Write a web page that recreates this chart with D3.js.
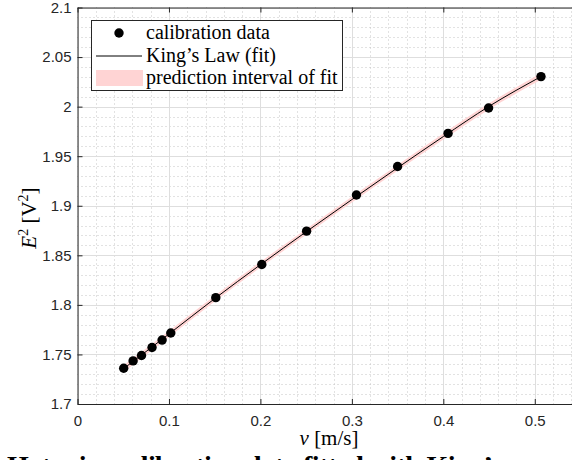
<!DOCTYPE html>
<html>
<head>
<meta charset="utf-8">
<script src="https://cdn.jsdelivr.net/npm/d3@7"></script>
<style>
  body { margin: 0; background: #fff; }
  svg { display: block; }
</style>
</head>
<body>
<svg id="chart" width="572" height="460"></svg>
<script>
// calibration points
const vData  = [0.0505, 0.0608, 0.0700, 0.0815, 0.0925, 0.1020, 0.1512, 0.2015, 0.2505, 0.3050, 0.3500, 0.4052, 0.4495, 0.5068];
const e2Data = [1.7361, 1.7435, 1.7489, 1.7570, 1.7645, 1.7716, 1.8073, 1.8407, 1.8744, 1.9108, 1.9396, 1.9730, 1.9986, 2.0303];

// fitted curve + prediction interval
const fitV     = [0.0505, 0.10, 0.15, 0.20, 0.25, 0.30, 0.35, 0.40, 0.45, 0.5068];
const fitE2    = [1.7357, 1.7706, 1.8063, 1.8405, 1.8737, 1.9062, 1.9383, 1.9698, 2.0003, 2.0303];
const piLower  = [1.7324, 1.7675, 1.8033, 1.8376, 1.8708, 1.9033, 1.9354, 1.9668, 1.9972, 2.0270];
const piUpper  = [1.7390, 1.7737, 1.8093, 1.8434, 1.8766, 1.9091, 1.9412, 1.9728, 2.0034, 2.0336];

const xTicks = [0, 0.1, 0.2, 0.3, 0.4, 0.5];
const yTicks = [1.7, 1.75, 1.8, 1.85, 1.9, 1.95, 2.0, 2.05, 2.1];
const xMinor = d3.range(0, 0.5501, 0.02);
const yMinor = d3.range(1.7, 2.1001, 0.01);

const legendLabels = ["calibration data", "King\u2019s Law (fit)", "prediction interval of fit"];

const svg = d3.select("#chart");
const pLeft = 77.5, pRight = 580.5, pTop = 7.5, pBottom = 404;
const axisColor = "#262626";

const x = d3.scaleLinear().domain([0, 0.55]).range([pLeft, pRight]);
const y = d3.scaleLinear().domain([1.7, 2.1]).range([pBottom, pTop]);

svg.append("defs").append("clipPath").attr("id", "clip")
  .append("rect").attr("x", pLeft).attr("y", pTop)
  .attr("width", pRight - pLeft).attr("height", pBottom - pTop);

// minor grid (dotted)
const grid = svg.append("g");
grid.selectAll(".mx").data(xMinor).enter().append("line")
  .attr("x1", d => Math.round(x(d)) + 0.5).attr("x2", d => Math.round(x(d)) + 0.5)
  .attr("y1", pTop).attr("y2", pBottom)
  .attr("stroke", "#c4c4c4").attr("stroke-dasharray", "1,3");
grid.selectAll(".my").data(yMinor).enter().append("line")
  .attr("y1", d => Math.round(y(d)) + 0.5).attr("y2", d => Math.round(y(d)) + 0.5)
  .attr("x1", pLeft).attr("x2", pRight)
  .attr("stroke", "#c4c4c4").attr("stroke-dasharray", "1,3");

// major grid
grid.selectAll(".gx").data(xTicks).enter().append("line")
  .attr("x1", d => Math.round(x(d)) + 0.5).attr("x2", d => Math.round(x(d)) + 0.5)
  .attr("y1", pTop).attr("y2", pBottom)
  .attr("stroke", "#dedede");
grid.selectAll(".gy").data(yTicks).enter().append("line")
  .attr("y1", d => Math.round(y(d)) + 0.5).attr("y2", d => Math.round(y(d)) + 0.5)
  .attr("x1", pLeft).attr("x2", pRight)
  .attr("stroke", "#dedede");

// data layers
const plot = svg.append("g").attr("clip-path", "url(#clip)");
const band = fitV.map((v, i) => ({v: v, lo: piLower[i], hi: piUpper[i]}));
plot.append("path").datum(band)
  .attr("fill", "#ffd4d4")
  .attr("d", d3.area().x(d => x(d.v)).y0(d => y(d.lo)).y1(d => y(d.hi)).curve(d3.curveMonotoneX));

plot.append("path").datum(fitV.map((v, i) => [v, fitE2[i]]))
  .attr("fill", "none").attr("stroke", "#000").attr("stroke-width", 1)
  .attr("d", d3.line().x(d => x(d[0])).y(d => y(d[1])).curve(d3.curveMonotoneX));

plot.selectAll("circle").data(vData).enter().append("circle")
  .attr("cx", d => x(d)).attr("cy", (d, i) => y(e2Data[i]))
  .attr("r", 4.7).attr("fill", "#000");

// axes, ticks pointing inward
const fmt = d => String(+d.toFixed(2));
const styleAxis = g => {
  g.select(".domain").attr("stroke", axisColor);
  g.selectAll(".tick line").attr("stroke", axisColor);
  g.selectAll("text").attr("fill", axisColor)
    .style("font-family", "'Liberation Sans', Arial, sans-serif").style("font-size", "15px");
};

svg.append("g").attr("transform", `translate(0,${pBottom})`)
  .call(d3.axisBottom(x).tickValues(xTicks).tickFormat(fmt).tickSizeInner(-5).tickSizeOuter(0).tickPadding(11))
  .call(styleAxis);
svg.append("g").attr("transform", `translate(${pLeft},0)`)
  .call(d3.axisLeft(y).tickValues(yTicks).tickFormat(fmt).tickSizeInner(-5).tickSizeOuter(0).tickPadding(6))
  .call(styleAxis);
svg.append("g").attr("transform", `translate(0,${pTop})`)
  .call(d3.axisTop(x).tickValues(xTicks).tickFormat("").tickSizeInner(-5).tickSizeOuter(0))
  .call(styleAxis);

// axis labels
const serif = "'Liberation Serif', 'Times New Roman', serif";
const xl = svg.append("text").attr("x", (pLeft + pRight) / 2).attr("y", 445)
  .attr("text-anchor", "middle").style("font-family", serif).style("font-size", "21px").attr("fill", "#000");
xl.append("tspan").style("font-style", "italic").text("v");
xl.append("tspan").text(" [m/s]");

const yl = svg.append("text").attr("transform", "translate(36,218) rotate(-90)")
  .attr("text-anchor", "middle").style("font-family", serif).style("font-size", "21px").attr("fill", "#000");
yl.append("tspan").style("font-style", "italic").text("E");
yl.append("tspan").attr("dy", -8).style("font-size", "14px").text("2");
yl.append("tspan").attr("dy", 8).text(" [V");
yl.append("tspan").attr("dy", -8).style("font-size", "14px").text("2");
yl.append("tspan").attr("dy", 8).text("]");

// legend
const lg = svg.append("g");
lg.append("rect").attr("x", 91.5).attr("y", 20.5).attr("width", 251).attr("height", 70)
  .attr("fill", "#fff").attr("stroke", axisColor).attr("stroke-width", 1);
const rowY = [33, 56, 78];
lg.append("circle").attr("cx", 119).attr("cy", rowY[0]).attr("r", 4.7).attr("fill", "#000");
lg.append("line").attr("x1", 96).attr("x2", 142).attr("y1", rowY[1]).attr("y2", rowY[1])
  .attr("stroke", "#000").attr("stroke-width", 1);
lg.append("rect").attr("x", 96).attr("y", rowY[2] - 8).attr("width", 47).attr("height", 16).attr("fill", "#ffd4d4");
lg.selectAll(".lt").data(legendLabels).enter().append("text")
  .attr("x", 146).attr("y", (d, i) => rowY[i] + 6)
  .style("font-family", serif).style("font-size", "20px").attr("fill", "#000")
  .text(d => d);

// caption of the figure, cut off by the bottom edge
svg.append("text").attr("x", 7).attr("y", 475)
  .attr("textLength", 495).attr("lengthAdjust", "spacing")
  .style("font-family", serif).style("font-size", "28px").style("font-weight", "bold")
  .attr("fill", "#000")
  .text("Hot-wire calibration data fitted with King\u2019s");
</script>
</body>
</html>
